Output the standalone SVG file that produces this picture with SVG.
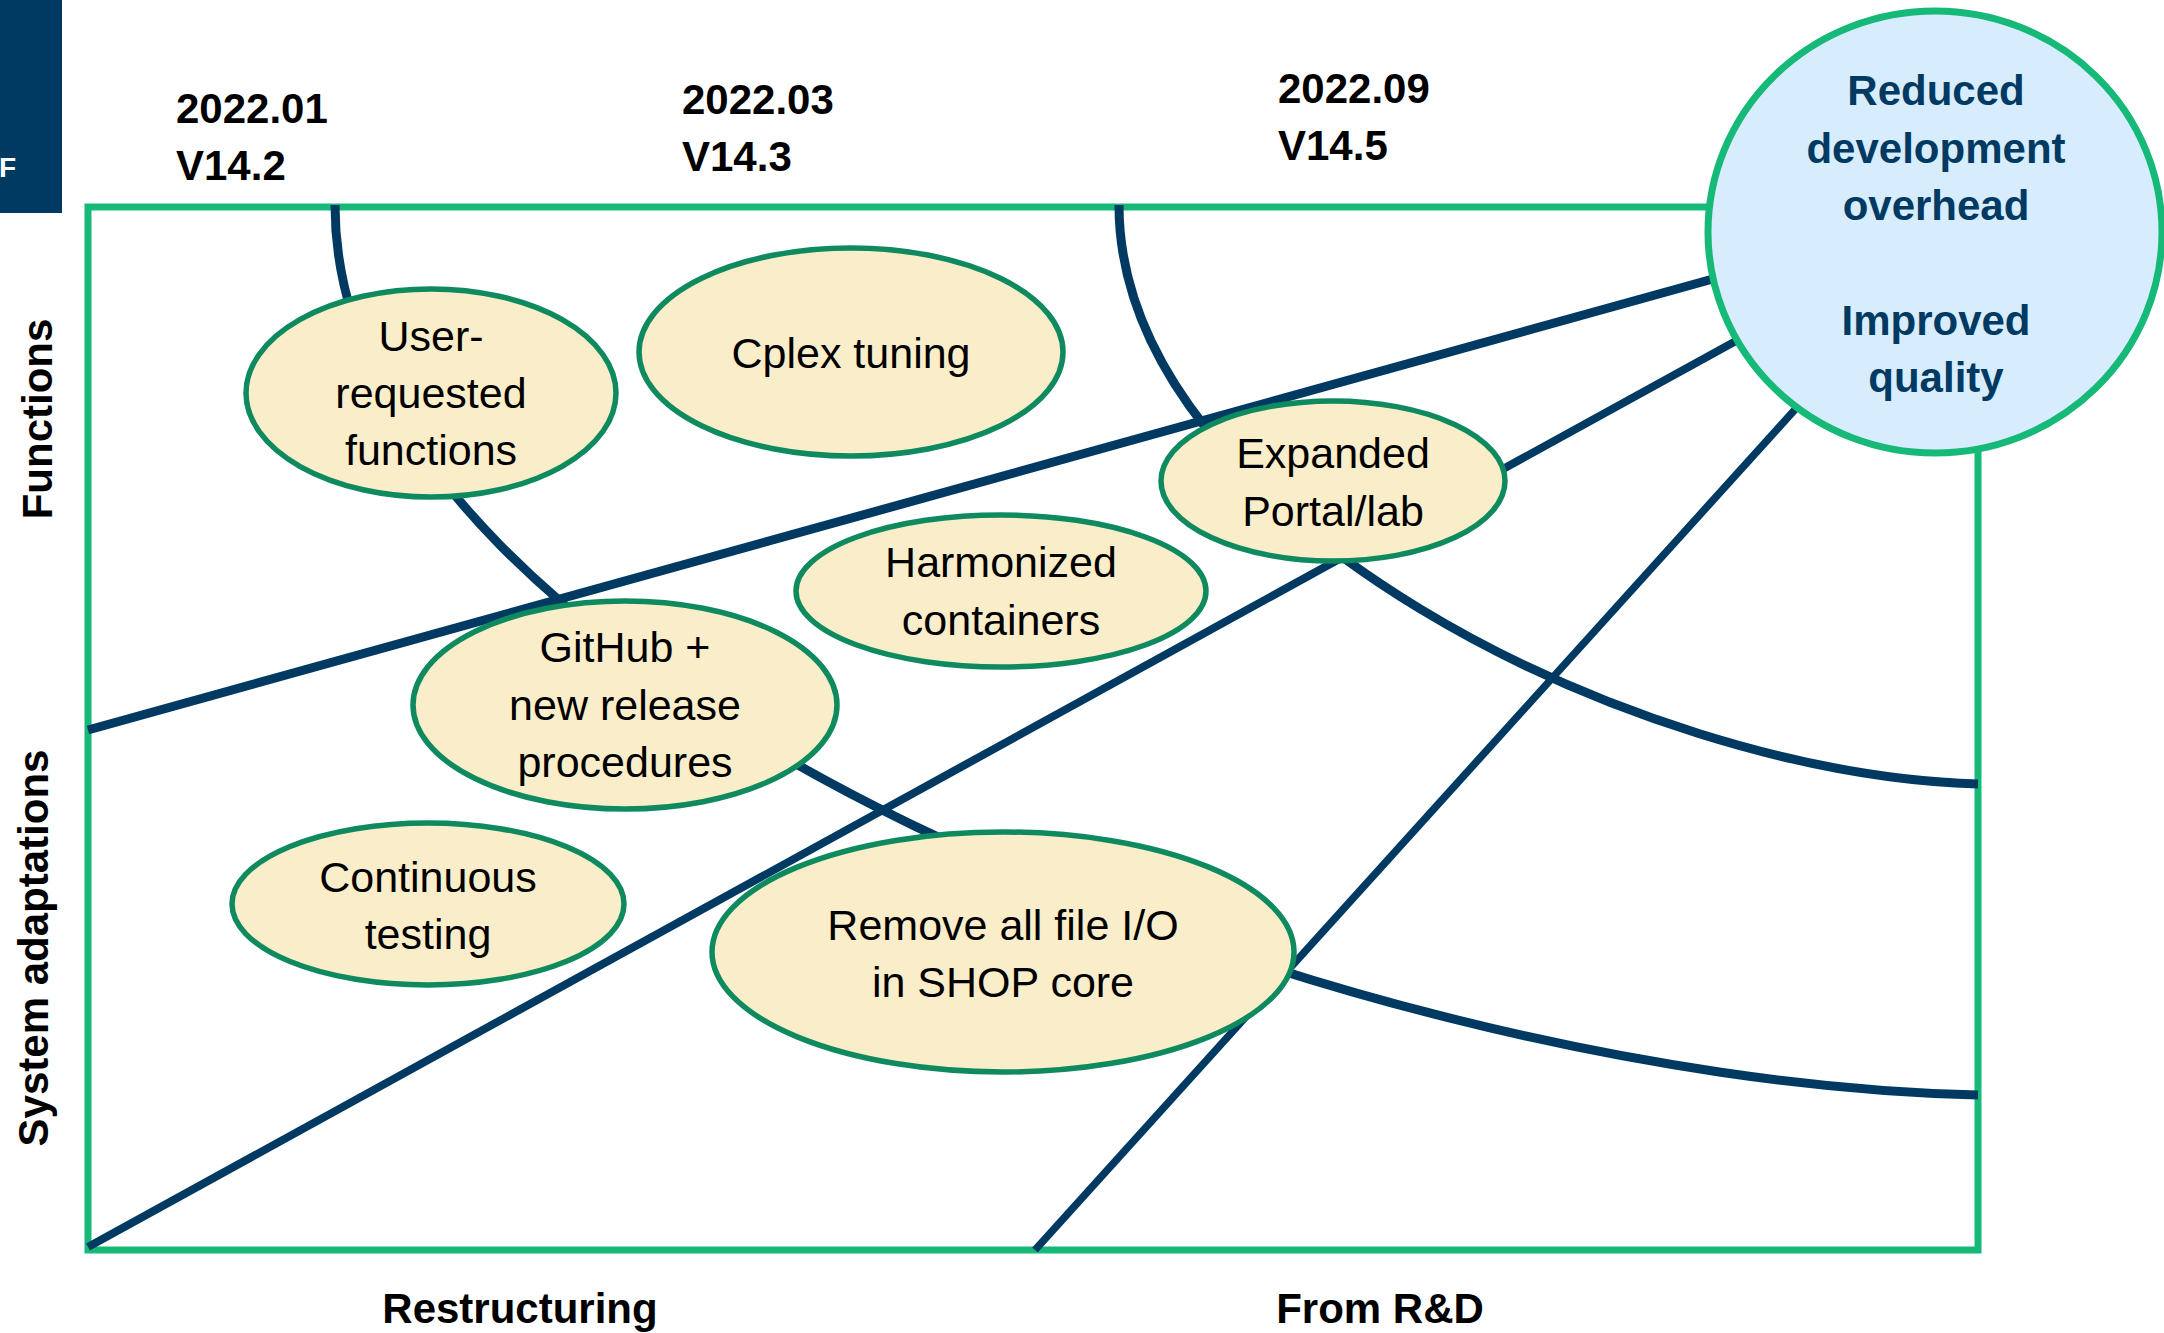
<svg xmlns="http://www.w3.org/2000/svg" width="2164" height="1333" viewBox="0 0 2164 1333">
<style>
.t{font-family:"Liberation Sans",Arial,sans-serif;}
.lbl{font-family:"Liberation Sans",Arial,sans-serif;font-weight:bold;font-size:42px;fill:#000;}
.node ellipse{fill:#FAEDC9;stroke:#0F8A5F;stroke-width:5.5;}
.node text{font-family:"Liberation Sans",Arial,sans-serif;font-size:43px;fill:#000;text-anchor:middle;}
.conn{fill:none;stroke:#003A63;stroke-linecap:butt;}
.goal text{font-family:"Liberation Sans",Arial,sans-serif;font-weight:bold;font-size:42px;fill:#003A63;text-anchor:middle;}
</style>
<rect x="0" y="0" width="2164" height="1333" fill="#FFFFFF"/>
<g id="corner">
<rect x="0" y="0" width="62" height="213" fill="#003A63"/>
<text x="-1" y="177" class="t" font-weight="bold" font-size="28" fill="#FFFFFF">F</text>
</g>
<g id="frame">
<rect x="88" y="207" width="1890" height="1043" fill="none" stroke="#17B978" stroke-width="7"/>
</g>
<g id="labels">
<text x="176" y="123" class="lbl" font-size="43">2022.01</text>
<text x="176" y="180" class="lbl" font-size="43">V14.2</text>
<text x="682" y="114" class="lbl" font-size="43">2022.03</text>
<text x="682" y="171" class="lbl" font-size="43">V14.3</text>
<text x="1278" y="103" class="lbl" font-size="43">2022.09</text>
<text x="1278" y="160" class="lbl" font-size="43">V14.5</text>
<text transform="translate(52,419) rotate(-90)" class="lbl" text-anchor="middle">Functions</text>
<text transform="translate(48,948) rotate(-90)" class="lbl" text-anchor="middle">System adaptations</text>
<text x="520" y="1323" class="lbl" text-anchor="middle">Restructuring</text>
<text x="1380" y="1323" class="lbl" text-anchor="middle">From R&amp;D</text>
</g>
<g id="connectors">
<path class="conn" stroke-width="9" d="M335,205 C335,687 1328,1080 1978,1095"/>
<path class="conn" stroke-width="9" d="M1119,205 C1119,519 1634,774 1978,784"/>
<path class="conn" stroke-width="9" d="M88,730 L1720,277"/>
<path class="conn" stroke-width="8" d="M88,1247 L1745,336"/>
<path class="conn" stroke-width="7.5" d="M1035,1250 L1800,404"/>
</g>
<g id="n-user" class="node">
<ellipse cx="431" cy="393" rx="185" ry="104"/>
<text x="431" y="351">User-</text>
<text x="431" y="408">requested</text>
<text x="431" y="465">functions</text>
</g>
<g id="n-cplex" class="node">
<ellipse cx="851" cy="352" rx="212" ry="104"/>
<text x="851" y="368">Cplex tuning</text>
</g>
<g id="n-expanded" class="node">
<ellipse cx="1333" cy="481" rx="172" ry="80"/>
<text x="1333" y="468">Expanded</text>
<text x="1333" y="526">Portal/lab</text>
</g>
<g id="n-harmonized" class="node">
<ellipse cx="1001" cy="591" rx="205" ry="76"/>
<text x="1001" y="577">Harmonized</text>
<text x="1001" y="635">containers</text>
</g>
<g id="n-github" class="node">
<ellipse cx="625" cy="705" rx="212" ry="104"/>
<text x="625" y="662">GitHub +</text>
<text x="625" y="720">new release</text>
<text x="625" y="777">procedures</text>
</g>
<g id="n-continuous" class="node">
<ellipse cx="428" cy="904" rx="196" ry="81"/>
<text x="428" y="892">Continuous</text>
<text x="428" y="949">testing</text>
</g>
<g id="n-remove" class="node">
<ellipse cx="1003" cy="952" rx="291" ry="120"/>
<text x="1003" y="940">Remove all file I/O</text>
<text x="1003" y="997">in SHOP core</text>
</g>
<g id="goal" class="goal">
<ellipse cx="1935" cy="232" rx="227" ry="221" fill="#D7EDFD" stroke="#17B978" stroke-width="7"/>
<text x="1936" y="105">Reduced</text>
<text x="1936" y="163">development</text>
<text x="1936" y="220">overhead</text>
<text x="1936" y="335">Improved</text>
<text x="1936" y="392">quality</text>
</g>
</svg>
